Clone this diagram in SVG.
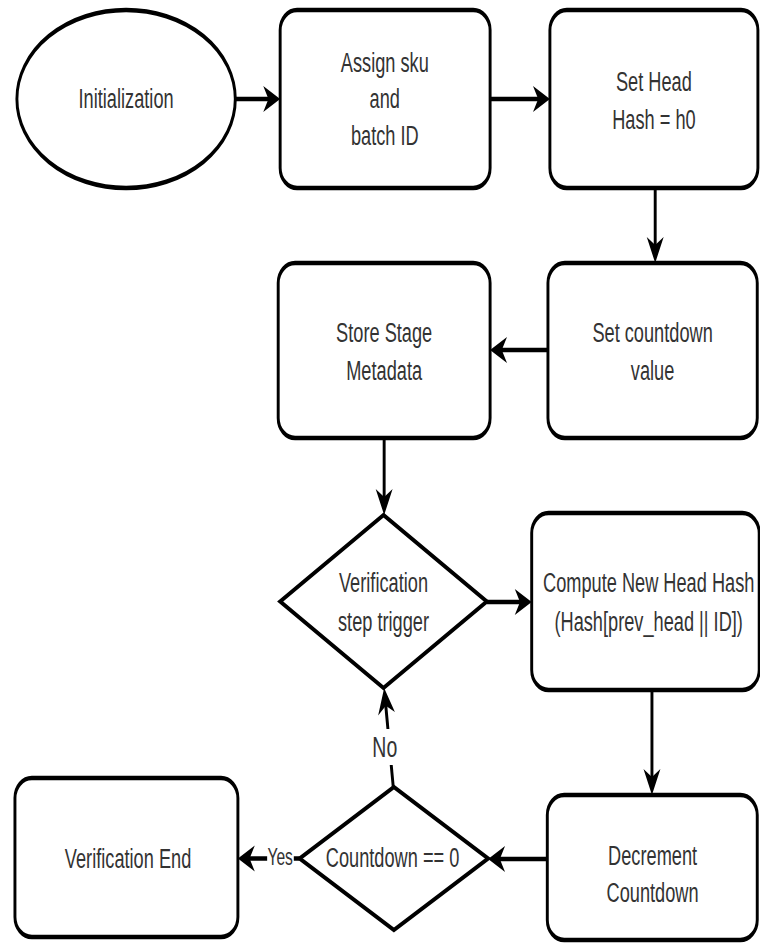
<svg xmlns="http://www.w3.org/2000/svg" width="760" height="949" viewBox="0 0 760 949">
<style>
.n{fill:#fff;stroke:#000;stroke-width:4.5}
.t{font-family:"Liberation Sans",Arial,sans-serif;font-size:28px;fill:#333;text-anchor:middle}
.c{fill:none;stroke:#000;stroke-width:4.5;marker-end:url(#ah)}
.lbg{fill:#fff;stroke:none}
</style>
<defs>
<marker id="ah" markerUnits="userSpaceOnUse" viewBox="-20 -15 32 30" refX="0" refY="0" markerWidth="32" markerHeight="30" orient="auto" style="overflow:visible">
<path d="M10,0 L-16,-13 L-8,0 L-16,13 Z" fill="#000"/>
</marker>
</defs>
<rect width="760" height="949" fill="#fff"/>
<g transform="scale(0.65 1)">
<g id="connectors">
<path class="c" d="M362,99 H421"/>
<path class="c" d="M754,99 H836"/>
<path class="c" d="M1008,188 V253"/>
<path class="c" d="M843,350 H764"/>
<path class="c" d="M591,438 V505"/>
<path class="c" d="M749,602 H808"/>
<path class="c" d="M1003,690 V785"/>
<path class="c" d="M842,859 H761"/>
<path class="c" d="M461,858.5 H376"/>
<path class="c" d="M605,787 L592.4,697.9"/>
<rect class="lbg" x="411" y="847" width="41" height="23"/>
<text class="t" x="431" y="865" style="font-size:24px">Yes</text>
<rect class="lbg" x="577" y="729" width="32" height="36"/>
<text class="t" x="592" y="757" style="font-size:30px">No</text>
</g>
<g id="init">
<ellipse class="n" cx="194" cy="99" rx="168" ry="89"/>
<text class="t" x="194" y="108">Initialization</text>
</g>
<g id="assign">
<rect class="n" x="431" y="10" width="323" height="178" rx="26" ry="20"/>
<text class="t" x="592" y="72">Assign sku</text>
<text class="t" x="592" y="108">and</text>
<text class="t" x="592" y="145">batch ID</text>
</g>
<g id="sethead">
<rect class="n" x="846" y="10" width="320" height="178" rx="26" ry="20"/>
<text class="t" x="1006" y="91">Set Head</text>
<text class="t" x="1006" y="129">Hash = h0</text>
</g>
<g id="setcountdown">
<rect class="n" x="843" y="263" width="322" height="175" rx="26" ry="20"/>
<text class="t" x="1004" y="342">Set countdown</text>
<text class="t" x="1004" y="380">value</text>
</g>
<g id="store">
<rect class="n" x="428" y="263" width="326" height="175" rx="26" ry="20"/>
<text class="t" x="591" y="342">Store Stage</text>
<text class="t" x="591" y="380">Metadata</text>
</g>
<g id="verify">
<path class="n" d="M590,515 L749,601.5 L590,688 L431,601.5 Z"/>
<text class="t" x="590" y="592">Verification</text>
<text class="t" x="590" y="631">step trigger</text>
</g>
<g id="compute">
<rect class="n" x="818" y="513" width="350" height="177" rx="26" ry="20"/>
<text class="t" x="998" y="592">Compute New Head Hash</text>
<text class="t" x="998" y="631">(Hash[prev_head || ID])</text>
</g>
<g id="decrement">
<rect class="n" x="842" y="795" width="323" height="145" rx="26" ry="20"/>
<text class="t" x="1004" y="865">Decrement</text>
<text class="t" x="1004" y="902">Countdown</text>
</g>
<g id="countdown">
<path class="n" d="M606,787 L751,858.5 L606,930 L461,858.5 Z"/>
<text class="t" x="604" y="867">Countdown == 0</text>
</g>
<g id="end">
<rect class="n" x="23" y="778" width="343" height="159" rx="26" ry="20"/>
<text class="t" x="197" y="868">Verification End</text>
</g>
</g>
</svg>
